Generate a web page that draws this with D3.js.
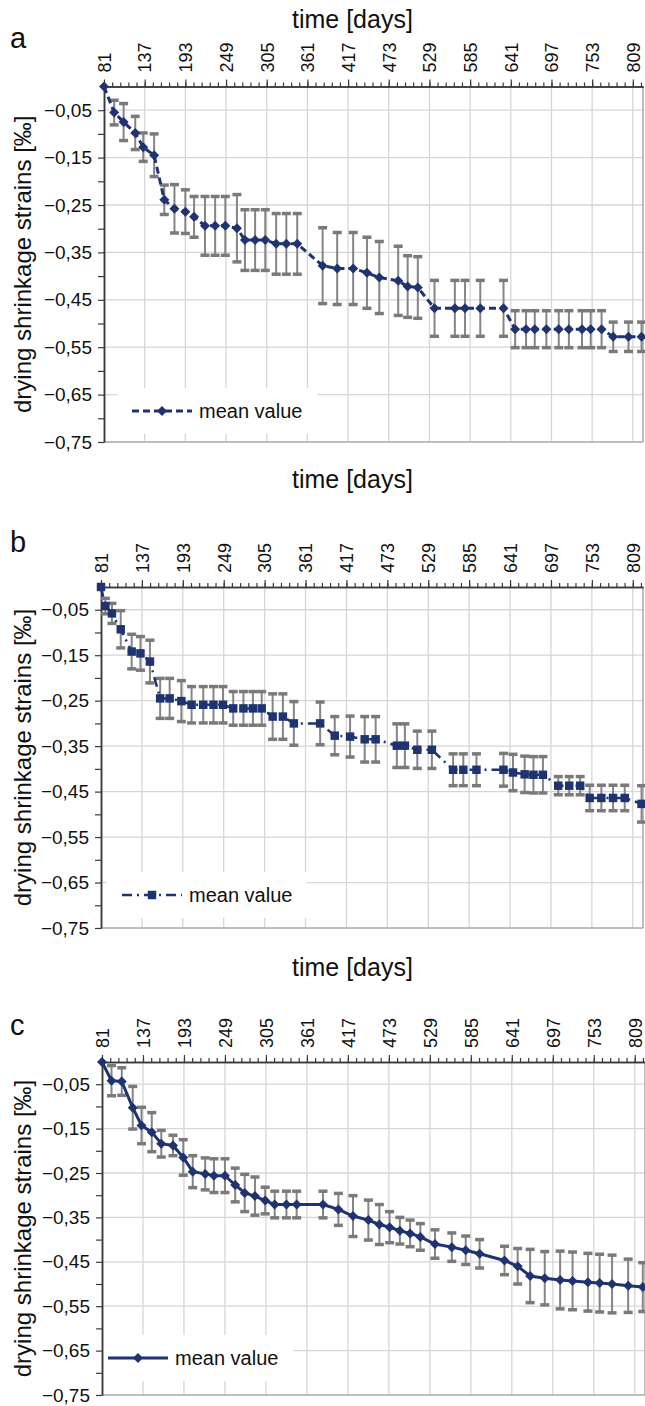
<!DOCTYPE html>
<html>
<head>
<meta charset="utf-8">
<script src="https://cdn.jsdelivr.net/npm/d3@7"></script>
<style>
  body { margin: 0; background: #fff; }
  text { font-family: "Liberation Sans", Arial, sans-serif; fill: #111; }
</style>
</head>
<body>
<svg id="chart" width="645" height="1406"></svg>
<script>
// tick values shared by the three panels
var xTicks = [81, 137, 193, 249, 305, 361, 417, 473, 529, 585, 641, 697, 753, 809];
var yTicks = [-0.05, -0.15, -0.25, -0.35, -0.45, -0.55, -0.65, -0.75];
var yMinor = [-0.10, -0.20, -0.30, -0.40, -0.50, -0.60, -0.70];

// panel a
var daysA = [81, 95, 108, 124, 135, 150, 164, 178, 193, 205, 220, 234, 248, 264, 275, 289, 303, 318, 332, 347,
             382, 402, 424, 443, 460, 486, 499, 513, 536, 564, 578, 599, 631, 647, 662, 674, 690, 707, 721, 739,
             751, 766, 782, 803, 821];
var meanA = [0, -0.055, -0.075, -0.098, -0.128, -0.145, -0.239, -0.258, -0.264, -0.275,
             -0.294, -0.294, -0.294, -0.299, -0.324, -0.324, -0.324, -0.332, -0.332, -0.332,
             -0.378, -0.384, -0.384, -0.393, -0.403, -0.410, -0.422, -0.424, -0.468, -0.468,
             -0.468, -0.468, -0.468, -0.512, -0.512, -0.512, -0.512, -0.512, -0.512, -0.512,
             -0.512, -0.512, -0.528, -0.528, -0.528];
var errA = [0, 0.026, 0.039, 0.035, 0.030, 0.045, 0.031, 0.051, 0.046, 0.043,
            0.062, 0.062, 0.062, 0.071, 0.064, 0.064, 0.064, 0.064, 0.064, 0.064,
            0.080, 0.076, 0.076, 0.075, 0.076, 0.073, 0.065, 0.065, 0.059, 0.059,
            0.059, 0.059, 0.059, 0.039, 0.039, 0.039, 0.039, 0.039, 0.039, 0.039,
            0.039, 0.039, 0.031, 0.031, 0.031];

// panel b
var daysB = [81, 87, 96, 108, 123, 135, 148, 162, 175, 191, 205, 221, 235, 248, 262, 276, 289, 301, 316, 330,
             345, 381, 401, 422, 442, 457, 486, 497, 514, 534, 563, 577, 595, 632, 645, 661, 673, 686, 707, 722,
             737, 750, 766, 782, 798, 821];
var meanB = [0, -0.042, -0.058, -0.093, -0.142, -0.146, -0.164, -0.245, -0.245, -0.251,
             -0.259, -0.259, -0.259, -0.259, -0.267, -0.267, -0.267, -0.267, -0.285, -0.285,
             -0.300, -0.300, -0.327, -0.329, -0.335, -0.335, -0.349, -0.349, -0.358, -0.358,
             -0.402, -0.402, -0.402, -0.402, -0.408, -0.412, -0.413, -0.413, -0.437, -0.437,
             -0.437, -0.464, -0.464, -0.464, -0.464, -0.477];
var errB = [0, 0.017, 0.022, 0.041, 0.038, 0.037, 0.047, 0.044, 0.044, 0.045,
            0.040, 0.040, 0.040, 0.040, 0.037, 0.037, 0.037, 0.037, 0.050, 0.050,
            0.048, 0.047, 0.042, 0.045, 0.050, 0.050, 0.048, 0.048, 0.041, 0.041,
            0.035, 0.035, 0.035, 0.036, 0.040, 0.040, 0.040, 0.040, 0.020, 0.020,
            0.020, 0.028, 0.028, 0.028, 0.028, 0.040];

// panel c
var daysC = [81, 94, 108, 123, 135, 149, 162, 178, 192, 205, 222, 234, 249, 263, 276, 290, 304, 317, 333, 347,
             383, 404, 424, 445, 460, 474, 488, 502, 516, 536, 559, 578, 597, 631, 649, 666, 686, 707, 724, 745,
             761, 778, 800, 820];
var meanC = [0, -0.042, -0.044, -0.103, -0.143, -0.158, -0.184, -0.188, -0.215, -0.247,
             -0.252, -0.256, -0.256, -0.277, -0.295, -0.302, -0.312, -0.321, -0.321, -0.321,
             -0.321, -0.332, -0.347, -0.356, -0.366, -0.372, -0.380, -0.386, -0.394, -0.410,
             -0.417, -0.424, -0.432, -0.447, -0.460, -0.482, -0.487, -0.491, -0.493, -0.496,
             -0.498, -0.500, -0.504, -0.507];
var errC = [0, 0.034, 0.031, 0.048, 0.041, 0.044, 0.030, 0.023, 0.040, 0.036,
            0.036, 0.038, 0.038, 0.038, 0.042, 0.043, 0.030, 0.030, 0.030, 0.030,
            0.030, 0.036, 0.046, 0.045, 0.045, 0.035, 0.030, 0.030, 0.030, 0.032,
            0.032, 0.032, 0.032, 0.032, 0.040, 0.060, 0.060, 0.065, 0.065, 0.065,
            0.065, 0.065, 0.060, 0.055];

var navy = "#1f3370", barGray = "#858585", gridGray = "#d6d6d6";
var svg = d3.select("#chart");
var fmt = d => d3.format(".2f")(d).replace(".", ",");

function drawPanel(p) {
  var x = d3.scaleLinear().domain([81, 823]).range([p.left, p.right]);
  var y = d3.scaleLinear().domain([0, -0.75]).range([p.top, p.bottom]);
  var g = svg.append("g");
  var pts = p.days.map((d, i) => ({ d: d, v: p.mean[i], e: p.err[i] }));

  // gridlines
  g.selectAll(".vgrid").data(xTicks.slice(1)).enter().append("line")
    .attr("x1", d => x(d)).attr("x2", d => x(d))
    .attr("y1", p.top).attr("y2", p.bottom)
    .attr("stroke", gridGray).attr("stroke-width", 1.3);
  g.selectAll(".hgrid").data(yTicks.slice(0, -1)).enter().append("line")
    .attr("x1", p.left).attr("x2", p.right)
    .attr("y1", d => y(d)).attr("y2", d => y(d))
    .attr("stroke", gridGray).attr("stroke-width", 1.3);

  // right and bottom frame
  g.append("line").attr("x1", p.right).attr("x2", p.right).attr("y1", p.top).attr("y2", p.bottom)
    .attr("stroke", "#a8a8a8").attr("stroke-width", 1.5);
  g.append("line").attr("x1", p.left).attr("x2", p.right).attr("y1", y(-0.75)).attr("y2", y(-0.75))
    .attr("stroke", "#a8a8a8").attr("stroke-width", 1.5);

  // legend box hides grid behind it
  g.append("rect").attr("x", p.legX - 15).attr("y", p.legY - 23)
    .attr("width", 200).attr("height", 46).attr("fill", "#fff");

  // top axis
  var top = g.append("g").attr("transform", "translate(0," + p.top + ")")
    .call(d3.axisTop(x).tickValues(xTicks).tickSize(7).tickSizeOuter(0).tickFormat(d3.format("d")));
  top.selectAll("text")
    .attr("transform", "rotate(-90)").attr("x", 14).attr("y", 0).attr("dy", "0.35em")
    .style("text-anchor", "start").style("font-size", "18px").attr("fill", "#111");
  g.append("g").attr("transform", "translate(0," + p.top + ")")
    .call(d3.axisTop(x).tickValues(d3.range(81, 823, 11.2)).tickSize(4).tickSizeOuter(0).tickFormat(""));

  // left axis
  var left = g.append("g").attr("transform", "translate(" + p.left + ",0)")
    .call(d3.axisLeft(y).tickValues(yTicks).tickSize(6).tickPadding(6).tickSizeOuter(0).tickFormat(fmt));
  left.selectAll("text").style("font-size", "19px").attr("fill", "#111");
  g.append("g").attr("transform", "translate(" + p.left + ",0)")
    .call(d3.axisLeft(y).tickValues(yMinor).tickSize(6).tickSizeOuter(0).tickFormat(""));
  g.selectAll(".domain").attr("stroke", "#3a3a3a").attr("stroke-width", 1.5);
  g.selectAll(".tick line").attr("stroke", "#3a3a3a").attr("stroke-width", 1.2);

  // error bars
  var eb = g.append("g").selectAll("g").data(pts.filter(d => d.e > 0)).enter().append("g");
  eb.append("line").attr("x1", d => x(d.d)).attr("x2", d => x(d.d))
    .attr("y1", d => y(d.v + d.e)).attr("y2", d => y(d.v - d.e))
    .attr("stroke", barGray).attr("stroke-width", 2);
  [1, -1].forEach(s => {
    eb.append("line").attr("x1", d => x(d.d) - 4.5).attr("x2", d => x(d.d) + 4.5)
      .attr("y1", d => y(d.v + s * d.e)).attr("y2", d => y(d.v + s * d.e))
      .attr("stroke", "#7a7a7a").attr("stroke-width", 3.5);
  });

  // mean line
  var line = d3.line().x(d => x(d.d)).y(d => y(d.v));
  g.append("path").datum(pts).attr("d", line).attr("fill", "none")
    .attr("stroke", navy).attr("stroke-width", p.lineWidth).attr("stroke-dasharray", p.dash);

  var sym = d3.symbol(d3.symbolSquare, p.markerSize);
  g.selectAll(".mk").data(pts).enter().append("path")
    .attr("d", sym)
    .attr("transform", d => "translate(" + x(d.d) + "," + y(d.v) + ") rotate(" + p.markerRot + ")")
    .attr("fill", navy);

  // legend
  g.append("line").attr("x1", p.legX).attr("x2", p.legX + 60).attr("y1", p.legY).attr("y2", p.legY)
    .attr("stroke", navy).attr("stroke-width", p.lineWidth).attr("stroke-dasharray", p.dash);
  g.append("path").attr("d", sym)
    .attr("transform", "translate(" + (p.legX + 30) + "," + p.legY + ") rotate(" + p.markerRot + ")")
    .attr("fill", navy);
  g.append("text").attr("x", p.legX + 67).attr("y", p.legY + 7)
    .style("font-size", "20px").text("mean value");

  // titles
  g.append("text").attr("x", 292).attr("y", p.titleY).style("font-size", "25px").text("time [days]");
  g.append("text").attr("transform", "translate(31," + ((p.top + p.bottom) / 2) + ") rotate(-90)")
    .style("text-anchor", "middle").style("font-size", "24px").text("drying shrinkage strains [‰]");
  g.append("text").attr("x", 10).attr("y", p.letterY).style("font-size", "29px").text(p.letter);
}

drawPanel({ days: daysA, mean: meanA, err: errA, letter: "a",
  left: 104, right: 643, top: 86.5, bottom: 442, titleY: 28, letterY: 48,
  legX: 132, legY: 411, dash: "7,4", lineWidth: 3, markerSize: 50, markerRot: 45 });
drawPanel({ days: daysB, mean: meanB, err: errB, letter: "b",
  left: 101, right: 643, top: 587, bottom: 928, titleY: 488, letterY: 552,
  legX: 122, legY: 895, dash: "10,5,2,5", lineWidth: 2.5, markerSize: 72, markerRot: 0 });
drawPanel({ days: daysC, mean: meanC, err: errC, letter: "c",
  left: 102, right: 645, top: 1062, bottom: 1395, titleY: 976, letterY: 1035,
  legX: 108, legY: 1358, dash: null, lineWidth: 3, markerSize: 50, markerRot: 45 });
</script>
</body>
</html>
